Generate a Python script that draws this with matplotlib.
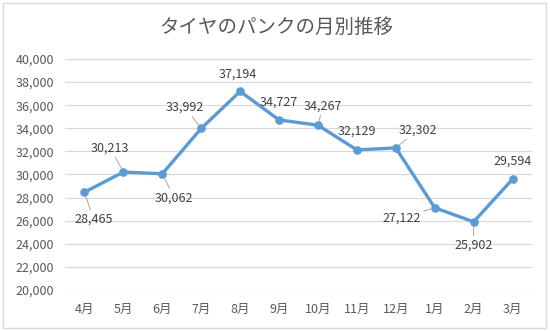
import matplotlib.pyplot as plt
from matplotlib.patches import Rectangle

plt.rcParams['font.family'] = ['Noto Sans CJK JP', 'DejaVu Sans']

# 月別のパンク件数
months = ["4月", "5月", "6月", "7月", "8月", "9月", "10月", "11月", "12月", "1月", "2月", "3月"]
punctures = [28465, 30213, 30062, 33992, 37194, 34727, 34267, 32129, 32302, 27122, 25902, 29594]
y_ticks = list(range(20000, 40001, 2000))

# ラベルの位置（点からのずれ, px）と引き出し線の有無
label_offsets = [(9, -27), (-13, 24), (12, -24), (-16, 21), (-2, 17), (0, 18),
                 (5, 19), (0, 19), (22, 18), (-33, -10), (0, -23), (0, 18)]
leader = [True, True, True, True, False, False, True, False, True, True, True, False]

fig = plt.figure(figsize=(5.5, 3.31), dpi=100)
fig.patches.append(Rectangle((3 / 550, 3 / 331), 543 / 550, 325 / 331, transform=fig.transFigure,
                             fill=False, edgecolor="#D9D9D9", linewidth=1))
ax = fig.add_axes([65 / 550, 1 - 290 / 331, 467 / 550, 231 / 331])

x = list(range(len(months)))
ax.plot(x, punctures, color="#5B9BD5", linewidth=2.4, marker="o", markersize=5.2,
        solid_joinstyle="round", zorder=3)

px = 72 / 100
for i, v in enumerate(punctures):
    dx, dy = label_offsets[i]
    props = None
    if leader[i]:
        props = dict(arrowstyle="-", color="#A6A6A6", lw=0.7, shrinkA=0, shrinkB=3)
    ax.annotate(f"{v:,}", (i, v), xytext=(dx * px, dy * px), textcoords="offset points",
                ha="center", va="center", fontsize=9, color="#404040", arrowprops=props)

ax.set_xlim(-0.5, len(months) - 0.5)
ax.set_ylim(20000, 40000)
ax.set_yticks(y_ticks)
ax.set_yticklabels([f"{t:,}" for t in y_ticks])
ax.set_xticks(x)
ax.set_xticklabels(months)
ax.tick_params(length=0, labelsize=9, colors="#595959")
ax.tick_params(axis="x", pad=9)
ax.tick_params(axis="y", pad=8)
ax.grid(axis="y", color="#D9D9D9", linewidth=0.9)
ax.set_axisbelow(True)
for s in ax.spines.values():
    s.set_visible(False)

fig.text(276 / 550, 1 - 27 / 331, "タイヤのパンクの月別推移", ha="center", va="center",
         fontsize=14, color="#595959")

fig.savefig("out.png", dpi=100)
